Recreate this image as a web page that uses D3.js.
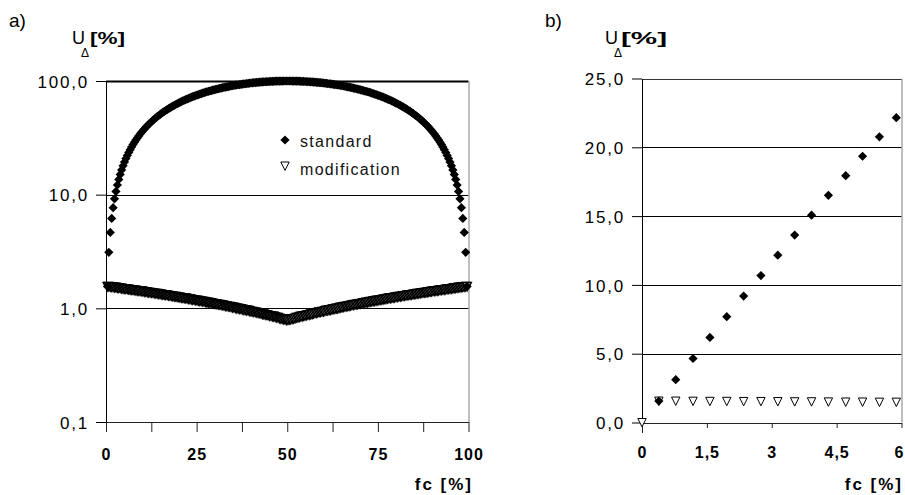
<!DOCTYPE html>
<html>
<head>
<meta charset="utf-8">
<script src="https://cdn.jsdelivr.net/npm/d3@7"></script>
<style>
  body { margin: 0; background: #fff; }
  text { font-family: "Liberation Sans", Arial, sans-serif; }
</style>
</head>
<body>
<svg id="chart"></svg>
<script>
// fc [%] in 255 steps
const fcValues = [
  0, 0.39, 0.78, 1.18, 1.57, 1.96, 2.35, 2.75, 3.14, 3.53, 3.92, 4.31, 4.71, 5.10, 5.49, 5.88,
  6.27, 6.67, 7.06, 7.45, 7.84, 8.24, 8.63, 9.02, 9.41, 9.80, 10.20, 10.59, 10.98, 11.37, 11.76, 12.16,
  12.55, 12.94, 13.33, 13.73, 14.12, 14.51, 14.90, 15.29, 15.69, 16.08, 16.47, 16.86, 17.25, 17.65, 18.04, 18.43,
  18.82, 19.22, 19.61, 20.00, 20.39, 20.78, 21.18, 21.57, 21.96, 22.35, 22.75, 23.14, 23.53, 23.92, 24.31, 24.71,
  25.10, 25.49, 25.88, 26.27, 26.67, 27.06, 27.45, 27.84, 28.24, 28.63, 29.02, 29.41, 29.80, 30.20, 30.59, 30.98,
  31.37, 31.76, 32.16, 32.55, 32.94, 33.33, 33.73, 34.12, 34.51, 34.90, 35.29, 35.69, 36.08, 36.47, 36.86, 37.25,
  37.65, 38.04, 38.43, 38.82, 39.22, 39.61, 40.00, 40.39, 40.78, 41.18, 41.57, 41.96, 42.35, 42.75, 43.14, 43.53,
  43.92, 44.31, 44.71, 45.10, 45.49, 45.88, 46.27, 46.67, 47.06, 47.45, 47.84, 48.24, 48.63, 49.02, 49.41, 49.80,
  50.20, 50.59, 50.98, 51.37, 51.76, 52.16, 52.55, 52.94, 53.33, 53.73, 54.12, 54.51, 54.90, 55.29, 55.69, 56.08,
  56.47, 56.86, 57.25, 57.65, 58.04, 58.43, 58.82, 59.22, 59.61, 60.00, 60.39, 60.78, 61.18, 61.57, 61.96, 62.35,
  62.75, 63.14, 63.53, 63.92, 64.31, 64.71, 65.10, 65.49, 65.88, 66.27, 66.67, 67.06, 67.45, 67.84, 68.24, 68.63,
  69.02, 69.41, 69.80, 70.20, 70.59, 70.98, 71.37, 71.76, 72.16, 72.55, 72.94, 73.33, 73.73, 74.12, 74.51, 74.90,
  75.29, 75.69, 76.08, 76.47, 76.86, 77.25, 77.65, 78.04, 78.43, 78.82, 79.22, 79.61, 80.00, 80.39, 80.78, 81.18,
  81.57, 81.96, 82.35, 82.75, 83.14, 83.53, 83.92, 84.31, 84.71, 85.10, 85.49, 85.88, 86.27, 86.67, 87.06, 87.45,
  87.84, 88.24, 88.63, 89.02, 89.41, 89.80, 90.20, 90.59, 90.98, 91.37, 91.76, 92.16, 92.55, 92.94, 93.33, 93.73,
  94.12, 94.51, 94.90, 95.29, 95.69, 96.08, 96.47, 96.86, 97.25, 97.65, 98.04, 98.43, 98.82, 99.22, 99.61, 100
];

// U_delta [%], standard
const standardValues = [
  0, 1.56, 3.11, 4.65, 6.18, 7.69, 9.19, 10.68, 12.16, 13.62, 15.07, 16.51, 17.94, 19.35, 20.76, 22.15,
  23.5, 24.9, 26.2, 27.6, 28.9, 30.2, 31.5, 32.8, 34.1, 35.4, 36.6, 37.9, 39.1, 40.3, 41.5, 42.7,
  43.9, 45.1, 46.2, 47.4, 48.5, 49.6, 50.7, 51.8, 52.9, 54.0, 55.0, 56.1, 57.1, 58.1, 59.1, 60.1,
  61.1, 62.1, 63.1, 64.0, 64.9, 65.9, 66.8, 67.7, 68.6, 69.4, 70.3, 71.1, 72.0, 72.8, 73.6, 74.4,
  75.2, 76.0, 76.7, 77.5, 78.2, 78.9, 79.7, 80.4, 81.1, 81.7, 82.4, 83.0, 83.7, 84.3, 84.9, 85.5,
  86.1, 86.7, 87.3, 87.8, 88.4, 88.9, 89.4, 89.9, 90.4, 90.9, 91.3, 91.8, 92.2, 92.7, 93.1, 93.5,
  93.9, 94.3, 94.6, 95.0, 95.3, 95.7, 96.0, 96.3, 96.6, 96.9, 97.2, 97.4, 97.7, 97.9, 98.1, 98.3,
  98.5, 98.7, 98.9, 99.0, 99.2, 99.3, 99.4, 99.6, 99.7, 99.7, 99.8, 99.9, 99.9, 100.0, 100.0, 100.0,
  100.0, 100.0, 100.0, 99.9, 99.9, 99.8, 99.7, 99.7, 99.6, 99.4, 99.3, 99.2, 99.0, 98.9, 98.7, 98.5,
  98.3, 98.1, 97.9, 97.7, 97.4, 97.2, 96.9, 96.6, 96.3, 96.0, 95.7, 95.3, 95.0, 94.6, 94.3, 93.9,
  93.5, 93.1, 92.7, 92.2, 91.8, 91.3, 90.9, 90.4, 89.9, 89.4, 88.9, 88.4, 87.8, 87.3, 86.7, 86.1,
  85.5, 84.9, 84.3, 83.7, 83.0, 82.4, 81.7, 81.1, 80.4, 79.7, 78.9, 78.2, 77.5, 76.7, 76.0, 75.2,
  74.4, 73.6, 72.8, 72.0, 71.1, 70.3, 69.4, 68.6, 67.7, 66.8, 65.9, 64.9, 64.0, 63.1, 62.1, 61.1,
  60.1, 59.1, 58.1, 57.1, 56.1, 55.0, 54.0, 52.9, 51.8, 50.7, 49.6, 48.5, 47.4, 46.2, 45.1, 43.9,
  42.7, 41.5, 40.3, 39.1, 37.9, 36.6, 35.4, 34.1, 32.8, 31.5, 30.2, 28.9, 27.6, 26.2, 24.9, 23.5,
  22.15, 20.76, 19.35, 17.94, 16.51, 15.07, 13.62, 12.16, 10.68, 9.19, 7.69, 6.18, 4.65, 3.11, 1.56, 0
];

// U_delta [%], modification
const modificationValues = [
  0, 1.56, 1.56, 1.55, 1.54, 1.54, 1.53, 1.53, 1.52, 1.51, 1.51, 1.50, 1.49, 1.49, 1.48, 1.48,
  1.47, 1.46, 1.46, 1.45, 1.45, 1.44, 1.43, 1.43, 1.42, 1.42, 1.41, 1.40, 1.40, 1.39, 1.38, 1.38,
  1.37, 1.37, 1.36, 1.35, 1.35, 1.34, 1.34, 1.33, 1.32, 1.32, 1.31, 1.31, 1.30, 1.29, 1.29, 1.28,
  1.27, 1.27, 1.26, 1.26, 1.25, 1.24, 1.24, 1.23, 1.23, 1.22, 1.21, 1.21, 1.20, 1.19, 1.19, 1.18,
  1.18, 1.17, 1.16, 1.16, 1.15, 1.15, 1.14, 1.13, 1.13, 1.12, 1.12, 1.11, 1.10, 1.10, 1.09, 1.08,
  1.08, 1.07, 1.07, 1.06, 1.05, 1.05, 1.04, 1.04, 1.03, 1.02, 1.02, 1.01, 1.00, 1.00, 0.99, 0.99,
  0.98, 0.97, 0.97, 0.96, 0.96, 0.95, 0.94, 0.94, 0.93, 0.93, 0.92, 0.91, 0.91, 0.90, 0.89, 0.89,
  0.88, 0.88, 0.87, 0.86, 0.86, 0.85, 0.85, 0.84, 0.83, 0.83, 0.82, 0.81, 0.81, 0.80, 0.80, 0.79,
  0.79, 0.80, 0.80, 0.81, 0.81, 0.82, 0.83, 0.83, 0.84, 0.85, 0.85, 0.86, 0.86, 0.87, 0.88, 0.88,
  0.89, 0.89, 0.90, 0.91, 0.91, 0.92, 0.93, 0.93, 0.94, 0.94, 0.95, 0.96, 0.96, 0.97, 0.97, 0.98,
  0.99, 0.99, 1.00, 1.00, 1.01, 1.02, 1.02, 1.03, 1.04, 1.04, 1.05, 1.05, 1.06, 1.07, 1.07, 1.08,
  1.08, 1.09, 1.10, 1.10, 1.11, 1.12, 1.12, 1.13, 1.13, 1.14, 1.15, 1.15, 1.16, 1.16, 1.17, 1.18,
  1.18, 1.19, 1.19, 1.20, 1.21, 1.21, 1.22, 1.23, 1.23, 1.24, 1.24, 1.25, 1.26, 1.26, 1.27, 1.27,
  1.28, 1.29, 1.29, 1.30, 1.31, 1.31, 1.32, 1.32, 1.33, 1.34, 1.34, 1.35, 1.35, 1.36, 1.37, 1.37,
  1.38, 1.38, 1.39, 1.40, 1.40, 1.41, 1.42, 1.42, 1.43, 1.43, 1.44, 1.45, 1.45, 1.46, 1.46, 1.47,
  1.48, 1.48, 1.49, 1.49, 1.50, 1.51, 1.51, 1.52, 1.53, 1.53, 1.54, 1.54, 1.55, 1.56, 1.56, 0
];

const seriesNames = ["standard", "modification"];

// panel a) ticks
const xTicksA = [0, 12.5, 25, 37.5, 50, 62.5, 75, 87.5, 100];
const xTickLabelsA = ["0", "", "25", "", "50", "", "75", "", "100"];
const yTicksA = [0.1, 1, 10, 100];
const yTickLabelsA = ["0,1", "1,0", "10,0", "100,0"];

// panel b) ticks
const xTicksB = [0, 1.5, 3, 4.5, 6];
const xTickLabelsB = ["0", "1,5", "3", "4,5", "6"];
const yTicksB = [0, 5, 10, 15, 20, 25];
const yTickLabelsB = ["0,0", "5,0", "10,0", "15,0", "20,0", "25,0"];

const points = fcValues.map((fc, i) => ({
    fc: fc,
    standard: standardValues[i],
    modification: modificationValues[i]
}));

const svg = d3.select("#chart")
    .attr("width", 905)
    .attr("height", 495);

svg.append("rect")
    .attr("width", 905)
    .attr("height", 495)
    .attr("fill", "#fff");

const diamondPath = "M0,-4.6L4.6,0L0,4.6L-4.6,0Z";
const trianglePath = "M-4.2,-4L4.2,-4L0,4.4Z";

function DrawPanel(p) {
    const g = svg.append("g");
    const [x0, x1] = p.x.range();
    const [yb, yt] = p.y.range();

    // horizontal gridlines
    g.selectAll(".grid")
        .data(p.yTicks.slice(1))
        .enter()
        .append("line")
        .attr("x1", x0)
        .attr("x2", x1)
        .attr("y1", d => Math.round(p.y(d)) + 0.5)
        .attr("y2", d => Math.round(p.y(d)) + 0.5)
        .attr("stroke", d => d === p.yTicks[p.yTicks.length - 1] ? p.topColor : "#000")
        .attr("stroke-width", d => d === p.yTicks[p.yTicks.length - 1] ? p.topWidth : 1);

    // right border
    g.append("line")
        .attr("x1", x1 + 0.5).attr("x2", x1 + 0.5)
        .attr("y1", yt).attr("y2", yb)
        .attr("stroke", "#808080");

    // x axis
    const xAxis = d3.axisBottom(p.x)
        .tickValues(p.xTicks)
        .tickFormat((d, i) => p.xLabels[i])
        .tickSize(p.xTickSize)
        .tickSizeOuter(0)
        .tickPadding(p.xPad);

    const gx = g.append("g")
        .attr("transform", `translate(0, ${Math.round(yb)})`)
        .call(xAxis)
        .attr("font-size", 16);
    gx.select(".domain").attr("stroke", "#222");
    gx.selectAll(".tick line").attr("stroke", "#222")
        .attr("y2", d => d === 0 ? 10 : p.xTickSize);
    gx.selectAll("text")
        .attr("font-weight", "bold")
        .attr("letter-spacing", 1)
        .attr("fill", "#000");
    // last label sits on the window edge: keep it inside
    if (p.lastLabelEnd) {
        const last = p.xTicks[p.xTicks.length - 1];
        gx.selectAll(".tick text").filter(d => d === last)
            .attr("text-anchor", "end")
            .attr("x", p.lastLabelEnd - p.x(last));
    }

    // y axis
    const yAxis = d3.axisLeft(p.y)
        .tickValues(p.yTicks)
        .tickFormat((d, i) => p.yLabels[i])
        .tickSize(10)
        .tickSizeOuter(0)
        .tickPadding(7);

    const gy = g.append("g")
        .attr("transform", `translate(${Math.round(x0)}, 0)`)
        .call(yAxis)
        .attr("font-size", 17);
    gy.select(".domain").attr("stroke", "#000");
    gy.selectAll(".tick line").attr("stroke", "#000");
    gy.selectAll("text")
        .attr("dy", "0.37em")
        .attr("letter-spacing", 1.8)
        .attr("fill", "#000");

    // modification markers
    g.selectAll(".mod")
        .data(p.data.filter(d => p.keep(d.modification)))
        .enter()
        .append("path")
        .attr("class", "mod")
        .attr("d", trianglePath)
        .attr("transform", d => `translate(${p.x(d.fc)}, ${p.y(d.modification)})`)
        .attr("fill", "#fff")
        .attr("stroke", "#000")
        .attr("stroke-width", p.modStroke);

    // standard markers
    g.selectAll(".std")
        .data(p.data.filter(d => d.standard > 0))
        .enter()
        .append("path")
        .attr("class", "std")
        .attr("d", diamondPath)
        .attr("transform", d => `translate(${p.x(d.fc)}, ${p.y(d.standard)})`)
        .attr("fill", "#000");

    return g;
}

function AxisTitle(ux, px, pw) {
    svg.append("text").attr("x", ux).attr("y", 44)
        .attr("font-size", 18).text("U");
    svg.append("text").attr("x", ux + 9).attr("y", 57)
        .attr("font-size", 12).text("\u0394");
    svg.append("text").attr("x", px).attr("y", 44)
        .attr("font-size", 16).attr("font-weight", "bold")
        .attr("textLength", pw).attr("lengthAdjust", "spacingAndGlyphs")
        .text("[%]");
}

function XTitle(xEnd) {
    svg.append("text").attr("x", xEnd).attr("y", 490)
        .attr("text-anchor", "end")
        .attr("font-size", 17).attr("font-weight", "bold")
        .attr("letter-spacing", 2)
        .text("fc [%]");
}

// panel a) log scale
const xA = d3.scaleLinear().domain([0, 100]).range([106, 468.5]);
const yA = d3.scaleLog().domain([0.1, 100]).range([422, 81]);

const panelA = DrawPanel({
    x: xA, y: yA,
    xTicks: xTicksA, xLabels: xTickLabelsA, xTickSize: 10, xPad: 16.5,
    yTicks: yTicksA, yLabels: yTickLabelsA,
    topColor: "#000", topWidth: 2.2,
    data: points,
    keep: v => v > 0,
    modStroke: 1.5
});

// legend
const legend = panelA.append("g");
legend.append("path").attr("d", diamondPath)
    .attr("transform", "translate(285, 140)").attr("fill", "#000");
legend.append("path").attr("d", trianglePath)
    .attr("transform", "translate(285, 166)")
    .attr("fill", "#fff").attr("stroke", "#000");
legend.selectAll(".leg")
    .data(seriesNames)
    .enter()
    .append("text")
    .attr("x", 300)
    .attr("y", (d, i) => 147 + i * 28)
    .attr("font-size", 16)
    .attr("letter-spacing", 1.3)
    .attr("fill", "#111")
    .text(d => d);

// panel b) linear scale, first steps
const xB = d3.scaleLinear().domain([0, 6]).range([642, 901.5]);
const yB = d3.scaleLinear().domain([0, 25]).range([422.5, 78.5]);

DrawPanel({
    x: xB, y: yB,
    xTicks: xTicksB, xLabels: xTickLabelsB, xTickSize: 5, xPad: 19,
    yTicks: yTicksB, yLabels: yTickLabelsB,
    topColor: "#333", topWidth: 1,
    data: points.filter(d => d.fc <= 6),
    keep: v => v >= 0,
    modStroke: 1,
    lastLabelEnd: 904
});

// labels
svg.append("text").attr("x", 9).attr("y", 27).attr("font-size", 19).text("a)");
svg.append("text").attr("x", 545).attr("y", 27).attr("font-size", 19).text("b)");
AxisTitle(72, 90, 35);
AxisTitle(605, 621, 46);
XTitle(473);
XTitle(903);
</script>
</body>
</html>
